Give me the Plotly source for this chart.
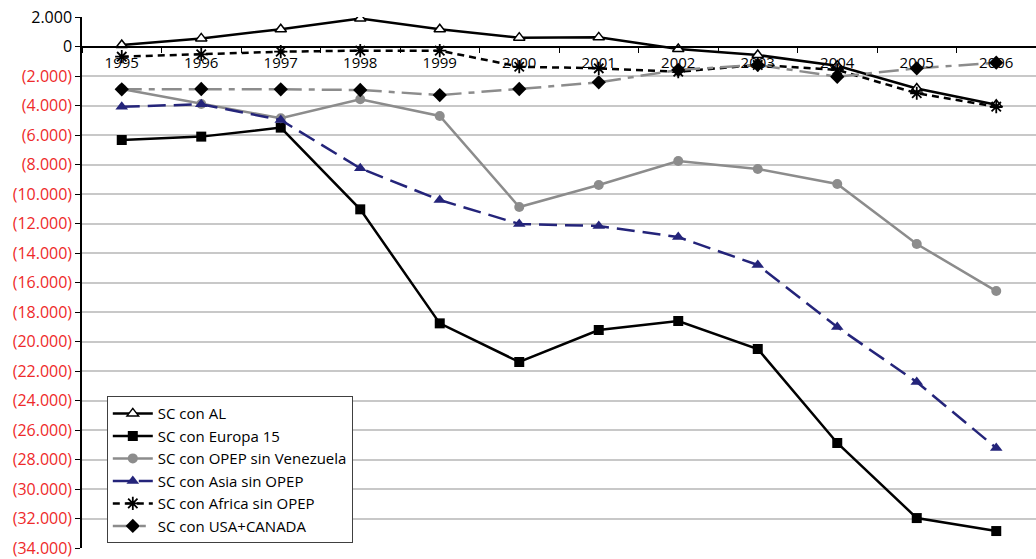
import plotly.graph_objects as go

years = ["1995", "1996", "1997", "1998", "1999", "2000", "2001", "2002", "2003", "2004", "2005", "2006"]

sc_al = [100, 550, 1170, 1900, 1170, 600, 620, -170, -580, -1300, -2850, -3950]
sc_europa = [-6340, -6110, -5500, -11040, -18770, -21390, -19220, -18610, -20510, -26880, -31970, -32850]
sc_opep = [-2880, -3900, -4870, -3580, -4710, -10880, -9390, -7760, -8300, -9320, -13390, -16580]
sc_asia = [-4080, -3920, -4980, -8260, -10410, -12030, -12170, -12920, -14810, -19020, -22750, -27220]
sc_africa = [-690, -530, -350, -280, -280, -1370, -1480, -1710, -1250, -1590, -3170, -4080]
sc_usa = [-2900, -2880, -2900, -2950, -3290, -2880, -2430, -1590, -1250, -2050, -1480, -1100]

names = ["SC con AL", "SC con Europa 15", "SC con OPEP sin Venezuela",
         "SC con Asia sin OPEP", "SC con Africa sin OPEP", "SC con USA+CANADA"]

y_ticks = list(range(2000, -34001, -2000))

def fmt(v):
    s = f"{abs(v):,}".replace(",", ".")
    if v < 0:
        return f"<span style='color:#ee2a2a'>({s})</span>"
    return s

fig = go.Figure()

fig.add_trace(go.Scatter(x=years, y=sc_al, name=names[0], mode="lines+markers",
    line=dict(color="black", width=2.5),
    marker=dict(symbol="triangle-up", size=10, color="white", line=dict(color="black", width=1.5))))
fig.add_trace(go.Scatter(x=years, y=sc_europa, name=names[1], mode="lines+markers",
    line=dict(color="black", width=2.5),
    marker=dict(symbol="square", size=10, color="black")))
fig.add_trace(go.Scatter(x=years, y=sc_opep, name=names[2], mode="lines+markers",
    line=dict(color="#8c8c8c", width=2.5),
    marker=dict(symbol="circle", size=10, color="#8c8c8c")))
fig.add_trace(go.Scatter(x=years, y=sc_asia, name=names[3], mode="lines+markers",
    line=dict(color="#24247a", width=2.5, dash="18px,8px"),
    marker=dict(symbol="triangle-up", size=11, color="#24247a")))
fig.add_trace(go.Scatter(x=years, y=sc_africa, name=names[4], mode="lines+markers",
    line=dict(color="black", width=2.5, dash="7px,5px"),
    marker=dict(symbol="asterisk-open", size=11, color="black", line=dict(color="black", width=1.8))))
fig.add_trace(go.Scatter(x=years, y=sc_usa, name=names[5], mode="lines+markers",
    line=dict(color="#8c8c8c", width=2.5, dash="20px,7px,6px,7px"),
    marker=dict(symbol="diamond", size=11, color="black")))

fig.update_layout(
    width=1036, height=559,
    margin=dict(l=82, r=0, t=17, b=11),
    plot_bgcolor="white", paper_bgcolor="white",
    font=dict(family="Open Sans", size=16, color="black"),
    showlegend=True,
    legend=dict(x=0.026, y=0.286, xanchor="left", yanchor="top",
                bgcolor="white", bordercolor="#404040", borderwidth=1,
                font=dict(family="Open Sans", size=15, color="black"),
                itemwidth=40, tracegroupgap=0),
    xaxis=dict(type="category", anchor="free", position=34000/36000,
               showgrid=False, showline=True, linecolor="black", linewidth=1.5,
               ticks="outside", ticklen=6, tickcolor="black", tickson="boundaries",
               ticklabelstandoff=3,
               tickfont=dict(family="Open Sans", size=15), range=[-0.5, 11.5]),
    yaxis=dict(range=[-34000, 2000], tickvals=y_ticks, ticktext=[fmt(v) for v in y_ticks],
               showgrid=True, gridcolor="#c8c8c8", gridwidth=1.5,
               zeroline=False, showline=True, linecolor="black", linewidth=1.5,
               ticks="outside", ticklen=5, tickcolor="black",
               tickfont=dict(family="Open Sans", size=16)),
)

fig.write_html("out.html")
